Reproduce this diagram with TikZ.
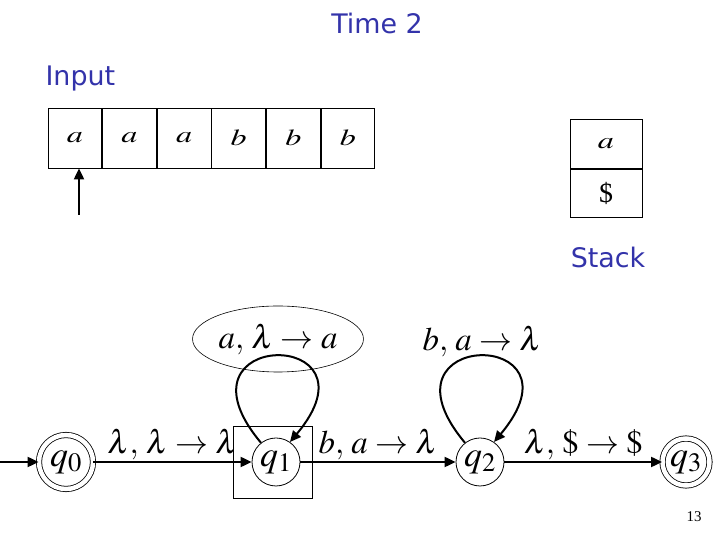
\documentclass[tikz,border=0pt]{standalone}
\usepackage{mathptmx}
\usepackage{fontspec}
\setmainfont{Liberation Serif}
\setsansfont{DejaVu Sans}
\usetikzlibrary{arrows.meta,positioning,shapes.geometric}
\definecolor{pdablue}{RGB}{51,51,170}
\newcommand{\tapesym}[1]{\scalebox{1.4}[1]{$#1$}}
\tikzset{
  st/.style={circle,draw,line width=0.8bp,minimum size=48bp,inner sep=0pt,
             font=\fontsize{36}{38}\selectfont},
  stacc/.style={st,double,double distance=4.5bp,minimum size=54bp},
  arr/.style={-{Triangle[length=11bp,width=10bp]},line width=2bp},
  lbl/.style={font=\fontsize{33}{36}\selectfont,inner sep=1bp},
  cell/.style={draw,line width=0.8bp,minimum width=53.8bp,minimum height=60bp,
               inner sep=0pt,font=\fontsize{23}{25}\selectfont},
  stk/.style={cell,minimum width=72bp,minimum height=48.5bp},
  ttl/.style={font=\sffamily\fontsize{27}{30}\selectfont,text=pdablue},
}

\begin{document}
\begin{tikzpicture}[x=1bp,y=1bp,node distance=0pt]
  \useasboundingbox (0,0) rectangle (720,540);

  % titles
  \node[ttl](title)  at (377,517) {Time 2};
  \node[ttl,anchor=west](inlbl) at (42,461) {Input};
  \node[ttl](stklbl) at (608,283) {Stack};

  % input tape and head
  \node[cell](c1) at (74.9,402) {\tapesym{a}};
  \foreach \s [count=\i from 2] in {a,a,b,b,b}{
    \pgfmathtruncatemacro{\j}{\i-1}
    \node[cell,right=0pt of c\j](c\i) {\tapesym{\s}};
  }
  \coordinate (hd) at (79,325);
  \draw[arr](hd) -- (hd |- c1.south);

  % stack
  \node[stk](s1) at (606,396) {\tapesym{a}};
  \node[stk,below=0pt of s1,font=\fontsize{28}{30}\selectfont](s2) {\$};

  % automaton
  \node[stacc](q0) at (66,78)  {$q_0$};
  \node[st]   (q1) at (276,78) {$q_1$};
  \node[st]   (q2) at (480,78) {$q_2$};
  \node[stacc,minimum size=47bp](q3) at (686,78) {$q_3$};
  \node[draw,line width=0.8bp,minimum width=79bp,minimum height=72bp](cur) at (272.5,78) {};

  \coordinate (init) at (0,78);
  \draw[arr](init) -- (q0);
  \draw[arr](q0) -- node[lbl,above]{$\lambda,\,\lambda\rightarrow\lambda$} (q1);
  \draw[arr](q1) -- node[lbl,above]{$b,\,a\rightarrow\lambda$} (q2);
  \draw[arr](q2) -- node[lbl,above]{$\lambda,\,\$\rightarrow\$$} (q3);

  % loops
  \draw[arr](q1.128) .. controls +(130:150) and +(50:150) .. (q1.55);
  \draw[arr](q2.128) .. controls +(130:150) and +(50:150) .. (q2.55);
  \node[lbl,ellipse,draw,line width=0.6bp,minimum width=162bp,minimum height=66bp](push) at (278,201) {$a,\,\lambda\rightarrow a$};
  \node[lbl](pop) at (482,199) {$b,\,a\rightarrow\lambda$};

  \node[font=\fontsize{15}{17}\selectfont](pg) at (694,23) {13};
\end{tikzpicture}
\end{document}
